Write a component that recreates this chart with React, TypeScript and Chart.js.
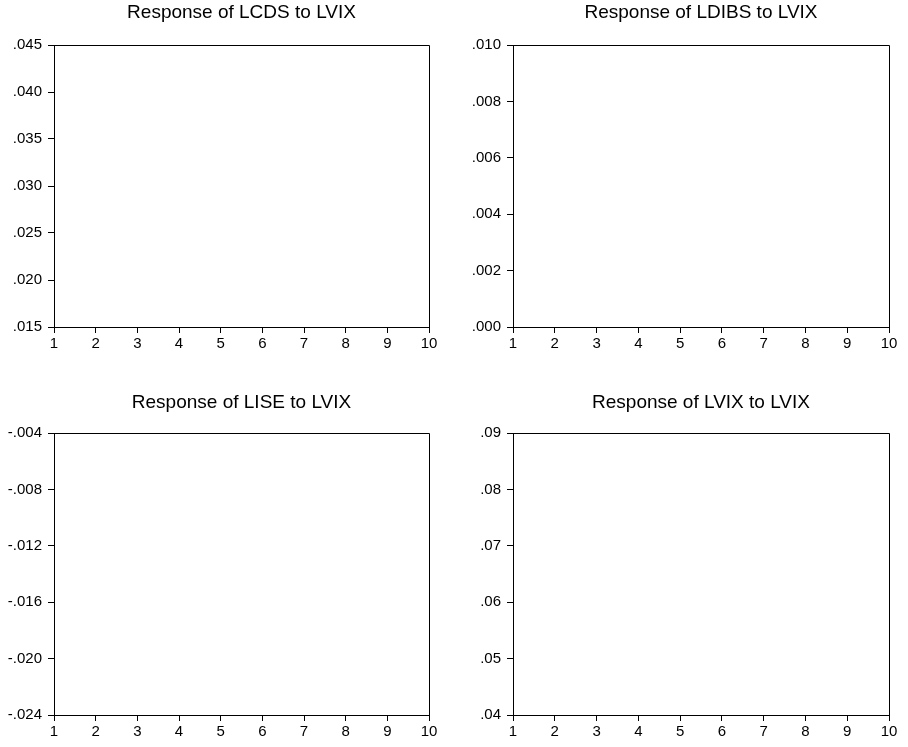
import React, { useEffect, useRef } from "react";
import { Chart, registerables } from "chart.js";

Chart.register(...registerables);

const periods = ["1", "2", "3", "4", "5", "6", "7", "8", "9", "10"];

const titles = [
  "Response of LCDS to LVIX",
  "Response of LDIBS to LVIX",
  "Response of LISE to LVIX",
  "Response of LVIX to LVIX",
];

// y-axis ranges
const yMin = [0.015, 0.0, -0.024, 0.04];
const yMax = [0.045, 0.01, -0.004, 0.09];
const yStep = [0.005, 0.002, 0.004, 0.01];
const yDecimals = [3, 3, 3, 2];

// no response lines are visible in the reference
const responseLCDS: number[] = [];
const responseLDIBS: number[] = [];
const responseLISE: number[] = [];
const responseLVIX: number[] = [];
const responses = [responseLCDS, responseLDIBS, responseLISE, responseLVIX];

const FONT = "'Liberation Sans', Arial, sans-serif";

type Geo = {
  left: number; top: number; width: number; height: number;
  axisW: number; padL: number; padR: number; padT: number; padB: number; axisH: number; titleY: number;
};

const geos: Geo[] = [
  { left: 0, top: 0, width: 454, height: 373, axisW: 54, padL: 0, padR: 25, padT: 45, padB: 16, axisH: 30, titleY: 12.5 },
  { left: 454, top: 0, width: 454, height: 373, axisW: 59, padL: 0, padR: 19, padT: 45, padB: 16, axisH: 30, titleY: 12.5 },
  { left: 0, top: 373, width: 454, height: 374, axisW: 54, padL: 0, padR: 25, padT: 60, padB: 2, axisH: 30, titleY: 29.5 },
  { left: 454, top: 373, width: 454, height: 374, axisW: 59, padL: 0, padR: 19, padT: 60, padB: 2, axisH: 30, titleY: 29.5 },
];

function fmt(v: number, d: number): string {
  const s = v.toFixed(d);
  if (s.startsWith("-0.")) return "-" + s.slice(2);
  if (s.startsWith("0.")) return s.slice(1);
  return s;
}

function Panel({ idx }: { idx: number }) {
  const ref = useRef<HTMLCanvasElement | null>(null);
  const g = geos[idx];
  useEffect(() => {
    if (!ref.current) return;
    const framePlugin = {
      id: "frame" + idx,
      afterDraw(chart: any) {
        const { ctx, chartArea } = chart;
        ctx.save();
        ctx.strokeStyle = "#000";
        ctx.lineWidth = 1;
        ctx.beginPath();
        ctx.moveTo(chartArea.left, chartArea.top + 0.5);
        ctx.lineTo(chartArea.right + 0.5, chartArea.top + 0.5);
        ctx.lineTo(chartArea.right + 0.5, chartArea.bottom);
        ctx.stroke();
        ctx.fillStyle = "#000";
        ctx.font = `19px ${FONT}`;
        ctx.textAlign = "center";
        ctx.textBaseline = "middle";
        ctx.fillText(titles[idx], (chartArea.left + chartArea.right) / 2, g.titleY);
        ctx.restore();
      },
    };
    const chart = new Chart(ref.current, {
      type: "line",
      data: {
        labels: periods,
        datasets: [
          {
            data: responses[idx],
            borderColor: "#0000ff",
            borderWidth: 1,
            pointRadius: 0,
          },
        ],
      },
      options: {
        animation: false,
        responsive: false,
        maintainAspectRatio: false,
        layout: { padding: { left: g.padL, right: g.padR, top: g.padT, bottom: g.padB } },
        plugins: { legend: { display: false }, title: { display: false }, tooltip: { enabled: false } },
        scales: {
          x: {
            type: "category",
            offset: false,
            grid: { drawOnChartArea: false, drawTicks: true, tickLength: 6, color: "#000" },
            border: { display: true, color: "#000", width: 1 },
            ticks: {
              color: "#000",
              font: { family: FONT, size: 15 },
              padding: 2,
              maxRotation: 0,
              autoSkip: false,
            },
            afterFit(scale: any) {
              scale.height = g.axisH;
            },
          },
          y: {
            type: "linear",
            min: yMin[idx],
            max: yMax[idx],
            grid: { drawOnChartArea: false, drawTicks: true, tickLength: 6, color: "#000" },
            border: { display: true, color: "#000", width: 1 },
            ticks: {
              stepSize: yStep[idx],
              color: "#000",
              font: { family: FONT, size: 15 },
              padding: 6,
              callback: (v: any) => fmt(Number(v), yDecimals[idx]),
            },
            afterFit(scale: any) {
              scale.width = g.axisW;
            },
          },
        },
      },
      plugins: [framePlugin],
    } as any);
    return () => chart.destroy();
  }, [idx]);
  return (
    <canvas
      ref={ref}
      width={g.width}
      height={g.height}
      style={{ position: "absolute", left: g.left, top: g.top, width: g.width, height: g.height }}
    />
  );
}

export default function App() {
  return (
    <div style={{ position: "absolute", left: 0, top: 0, width: 908, height: 747, background: "#fff" }}>
      {[0, 1, 2, 3].map((i) => (
        <Panel key={i} idx={i} />
      ))}
    </div>
  );
}
